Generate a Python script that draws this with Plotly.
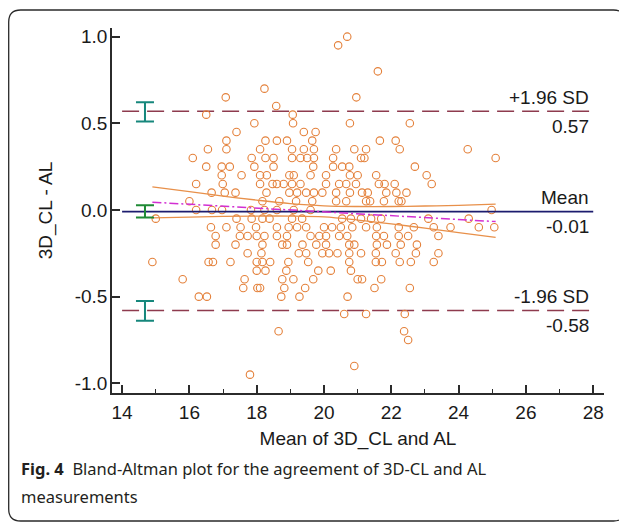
import plotly.graph_objects as go

# ---------------- data ----------------
mean_vals = [
    20.69, 20.42, 21.6, 18.23, 17.08, 20.96, 18.58, 16.5, 19.07,
    17.93, 19.08, 20.77, 22.55,
    17.4, 19.4, 19.75,
    17.1, 18.26, 18.6, 18.9, 19.65, 21.66, 22.13,
    16.55, 17.1, 18.1, 19.05, 19.4, 19.7, 20.36, 20.9, 21.25, 22.25, 24.27,
    16.1, 17.85, 18.26, 18.5, 19.05, 19.3, 19.5, 19.7, 20.27, 21.1, 21.2, 25.1,
    16.5, 16.96, 17.2, 17.93, 18.5, 19.68, 20.27, 20.54, 20.75, 22.7,
    16.96, 17.55, 18.1, 18.3, 18.97, 19.1, 19.6, 20.06, 20.77, 21.0, 21.55, 23.05,
    16.2, 16.99, 18.1, 18.47, 18.6, 18.8, 19.05, 19.3, 20.06, 20.45, 20.66, 20.95, 21.63, 21.8, 22.1, 23.2,
    16.66, 17.05, 17.37, 18.29, 18.97, 19.2, 19.47, 19.7, 19.95, 20.36, 20.77, 21.13, 21.3, 21.85, 22.15, 22.45,
    16.0, 18.17, 18.67, 19.17, 19.65, 20.36, 20.66, 21.25, 21.37, 21.78, 22.22, 22.3,
    16.2, 16.67, 16.97, 17.83, 18.23, 18.6, 19.1, 19.6, 24.98,
    15.0, 17.4, 17.85, 18.17, 18.38, 19.05, 19.35, 20.54, 20.8, 21.1, 21.4, 21.7, 23.1, 24.3,
    16.64, 17.1, 17.52, 17.98, 18.6, 18.95, 19.2, 19.47, 20.0, 20.24,
    20.5, 20.84, 21.25, 21.57, 22.22, 22.67, 23.26, 23.76, 24.6, 25.06,
    16.78, 17.5, 17.73, 18.0, 18.23, 18.6, 18.9, 19.6, 19.86, 20.06,
    20.45, 20.69, 21.55, 21.78, 22.22, 22.5, 23.4,
    16.78, 17.37, 18.17, 18.76, 18.9, 19.36, 19.77, 20.06, 20.75, 20.9, 21.57, 21.87, 22.28, 22.76,
    17.73, 18.14, 19.25, 19.47, 19.95, 20.15, 20.4, 20.75, 21.1, 21.54, 22.13, 22.73, 23.4,
    14.9, 16.57, 16.7, 17.22, 18.0, 18.17, 18.4, 18.94, 19.53, 20.75, 21.54, 21.72, 22.25, 22.58, 23.26,
    18.0, 18.26, 18.88, 19.83, 20.2, 20.8,
    15.8, 17.64, 18.76, 19.09, 19.68, 21.0, 21.13, 21.7,
    17.6, 18.02, 18.1, 18.82, 19.44, 21.5, 22.55,
    16.28, 16.52, 18.73, 19.27, 20.7,
    20.6, 21.25, 22.4,
    18.65, 22.38, 22.5,
    20.9, 17.8,
]

diff_vals = [
    1.00, 0.95, 0.80, 0.70, 0.65, 0.65, 0.60, 0.55, 0.55,
    0.50, 0.50, 0.50, 0.50,
    0.45, 0.45, 0.45,
    0.40, 0.40, 0.40, 0.40, 0.40, 0.40, 0.40,
    0.35, 0.35, 0.35, 0.35, 0.35, 0.35, 0.35, 0.35, 0.35, 0.35, 0.35,
    0.30, 0.30, 0.30, 0.30, 0.30, 0.30, 0.30, 0.30, 0.30, 0.30, 0.30, 0.30,
    0.25, 0.25, 0.25, 0.25, 0.25, 0.25, 0.25, 0.25, 0.25, 0.25,
    0.20, 0.20, 0.20, 0.20, 0.20, 0.20, 0.20, 0.20, 0.20, 0.20, 0.20, 0.20,
    0.15, 0.15, 0.15, 0.15, 0.15, 0.15, 0.15, 0.15, 0.15, 0.15, 0.15, 0.15, 0.15, 0.15, 0.15, 0.15,
    0.10, 0.10, 0.10, 0.10, 0.10, 0.10, 0.10, 0.10, 0.10, 0.10, 0.10, 0.10, 0.10, 0.10, 0.10, 0.10,
    0.05, 0.05, 0.05, 0.05, 0.05, 0.05, 0.05, 0.05, 0.05, 0.05, 0.05, 0.05,
    0.00, 0.00, 0.00, 0.00, 0.00, 0.00, 0.00, 0.00, 0.00,
    -0.05, -0.05, -0.05, -0.05, -0.05, -0.05, -0.05, -0.05, -0.05, -0.05, -0.05, -0.05, -0.05, -0.05,
    -0.10, -0.10, -0.10, -0.10, -0.10, -0.10, -0.10, -0.10, -0.10, -0.10,
    -0.10, -0.10, -0.10, -0.10, -0.10, -0.10, -0.10, -0.10, -0.10, -0.10,
    -0.15, -0.15, -0.15, -0.15, -0.15, -0.15, -0.15, -0.15, -0.15, -0.15,
    -0.15, -0.15, -0.15, -0.15, -0.15, -0.15, -0.15,
    -0.20, -0.20, -0.20, -0.20, -0.20, -0.20, -0.20, -0.20, -0.20, -0.20, -0.20, -0.20, -0.20, -0.20,
    -0.25, -0.25, -0.25, -0.25, -0.25, -0.25, -0.25, -0.25, -0.25, -0.25, -0.25, -0.25, -0.25,
    -0.30, -0.30, -0.30, -0.30, -0.30, -0.30, -0.30, -0.30, -0.30, -0.30, -0.30, -0.30, -0.30, -0.30, -0.30,
    -0.35, -0.35, -0.35, -0.35, -0.35, -0.35,
    -0.40, -0.40, -0.40, -0.40, -0.40, -0.40, -0.40, -0.40,
    -0.45, -0.45, -0.45, -0.45, -0.45, -0.45, -0.45,
    -0.50, -0.50, -0.50, -0.50, -0.50,
    -0.60, -0.60, -0.60,
    -0.70, -0.70, -0.75,
    -0.90, -0.95,
]

# agreement statistics
mean_diff = -0.01
upper_loa = 0.57
lower_loa = -0.58
line_span = [14, 28]

# 95% CI bars drawn at the left (center, half-width)
ci_bar_x = 14.68
ci_upper_loa = [0.566, 0.056]
ci_mean = [-0.008, 0.036]
ci_lower_loa = [-0.582, 0.057]

# regression line of differences and its 95% confidence curves
reg_x = [14.9, 25.1]
reg_y = [0.045, -0.067]
ci_curve_x = [14.9, 16, 17, 18, 19, 20, 21, 22, 23, 24, 25.1]
ci_curve_upper = [0.133, 0.106, 0.080, 0.057, 0.037, 0.024, 0.020, 0.020, 0.023, 0.027, 0.034]
ci_curve_lower = [-0.046, -0.041, -0.037, -0.035, -0.035, -0.040, -0.058, -0.080, -0.105, -0.131, -0.158]

x_ticks = [14, 16, 18, 20, 22, 24, 26, 28]
x_minor = [15, 17, 19, 21, 23, 25, 27]
y_ticks = [-1.0, -0.5, 0.0, 0.5, 1.0]
y_ticktext = ["-1.0", "-0.5", "0.0", "0.5", "1.0"]

# ---------------- figure ----------------
# the page body has an 8px margin, so the figure is drawn 8px in from the window edge
OFF = 8
W, H = 627 - OFF, 522 - OFF
ML, MR, MT, MB = 112 - OFF, 23, 28 - OFF, 129
PW, PH = W - ML - MR, H - MT - MB

def px(xpage):
    return (xpage - OFF - ML) / PW

def py(ypage):
    return (H - MB - (ypage - OFF)) / PH

FONT = "Liberation Sans, Arial, sans-serif"
TXT = "#1a1a1a"
ORANGE = "#E4803A"
SD_COL = "#8E3B4E"
MEAN_COL = "#1C1C6E"
TEAL = "#16877C"
GREEN = "#1F8A35"

fig = go.Figure()

# limits of agreement
fig.add_trace(go.Scatter(x=line_span, y=[upper_loa, upper_loa], mode="lines",
                         line=dict(color=SD_COL, width=1.6, dash="17px,8px"), hoverinfo="skip"))
fig.add_trace(go.Scatter(x=line_span, y=[lower_loa, lower_loa], mode="lines",
                         line=dict(color=SD_COL, width=1.6, dash="17px,8px"), hoverinfo="skip"))

# scatter points
fig.add_trace(go.Scatter(x=mean_vals, y=diff_vals, mode="markers",
                         marker=dict(symbol="circle-open", size=7.5, color=ORANGE,
                                     line=dict(width=1.1, color=ORANGE))))

# regression CI curves
fig.add_trace(go.Scatter(x=ci_curve_x, y=ci_curve_upper, mode="lines", line_shape="spline",
                         line=dict(color="#E8904A", width=1.3), hoverinfo="skip"))
fig.add_trace(go.Scatter(x=ci_curve_x, y=ci_curve_lower, mode="lines", line_shape="spline",
                         line=dict(color="#E8904A", width=1.3), hoverinfo="skip"))

# mean line
fig.add_trace(go.Scatter(x=line_span, y=[mean_diff, mean_diff], mode="lines",
                         line=dict(color=MEAN_COL, width=1.7), hoverinfo="skip"))

# regression line
fig.add_trace(go.Scatter(x=reg_x, y=reg_y, mode="lines",
                         line=dict(color="#D22FD2", width=1.5, dash="9px,3px,2px,3px"), hoverinfo="skip"))

# CI bars
for (c, hw), col in [(ci_upper_loa, TEAL), (ci_mean, GREEN), (ci_lower_loa, TEAL)]:
    fig.add_trace(go.Scatter(x=[ci_bar_x], y=[c], mode="markers",
                             marker=dict(size=1, color="rgba(0,0,0,0)"),
                             error_y=dict(type="data", array=[hw], symmetric=True,
                                          color=col, thickness=2, width=9),
                             hoverinfo="skip"))

# labels at right
lab_font = dict(family=FONT, size=19, color=TXT)
for yv, top, bottom in [(upper_loa, "+1.96 SD", "0.57"), (mean_diff, "Mean", "-0.01"),
                        (lower_loa, "-1.96 SD", "-0.58")]:
    fig.add_annotation(x=27.93, y=yv, xref="x", yref="y", text=top, showarrow=False,
                       xanchor="right", yanchor="middle", yshift=14, font=lab_font)
    fig.add_annotation(x=27.93, y=yv, xref="x", yref="y", text=bottom, showarrow=False,
                       xanchor="right", yanchor="middle", yshift=-15, font=lab_font)

# caption
cap_font = dict(family="Noto Sans, Open Sans, sans-serif", size=16.5, color="#231F20")
fig.add_annotation(x=px(19), y=py(468), xref="paper", yref="paper", showarrow=False,
                   xanchor="left", yanchor="middle", font=cap_font,
                   text="<b>Fig. 4</b>  Bland-Altman plot for the agreement of 3D-CL and AL")
fig.add_annotation(x=px(19), y=py(496), xref="paper", yref="paper", showarrow=False,
                   xanchor="left", yanchor="middle", font=cap_font,
                   text="measurements")

# rounded frame
L_, R_, T_, B_, r = 8.7, 625.5, 10, 521, 12
path = (f"M {px(L_ + r)},{py(T_)} L {px(R_ - r)},{py(T_)} Q {px(R_)},{py(T_)} {px(R_)},{py(T_ + r)} "
        f"L {px(R_)},{py(B_ - r)} Q {px(R_)},{py(B_)} {px(R_ - r)},{py(B_)} "
        f"L {px(L_ + r)},{py(B_)} Q {px(L_)},{py(B_)} {px(L_)},{py(B_ - r)} "
        f"L {px(L_)},{py(T_ + r)} Q {px(L_)},{py(T_)} {px(L_ + r)},{py(T_)} Z")
fig.add_shape(type="path", path=path, xref="paper", yref="paper",
              line=dict(color="#2a2a2a", width=1.3), layer="below")

axis_common = dict(showline=True, linecolor="#2b2b2b", linewidth=1.6, mirror=False,
                   ticks="inside", ticklen=8, tickwidth=1.6, tickcolor="#2b2b2b",
                   showgrid=False, zeroline=False,
                   tickfont=dict(family=FONT, size=19, color=TXT))

fig.update_layout(
    width=W, height=H, autosize=False,
    margin=dict(l=ML, r=MR, t=MT, b=MB, pad=0),
    paper_bgcolor="white", plot_bgcolor="white",
    showlegend=False,
    xaxis=dict(range=[13.70, 28.32], tickvals=x_ticks, ticklabelstandoff=1,
               minor=dict(tickvals=x_minor, ticks="inside", ticklen=4, tickwidth=1.4,
                          tickcolor="#2b2b2b"),
               title=dict(text="Mean of 3D_CL and AL", standoff=10,
                          font=dict(family=FONT, size=19, color=TXT)),
               **axis_common),
    yaxis=dict(range=[-1.056, 1.050], tickvals=y_ticks, ticktext=y_ticktext, ticklabelstandoff=-1,
               title=dict(text="3D_CL - AL", standoff=17,
                          font=dict(family=FONT, size=19, color=TXT)),
               **axis_common),
)

fig.write_html("out.html")
